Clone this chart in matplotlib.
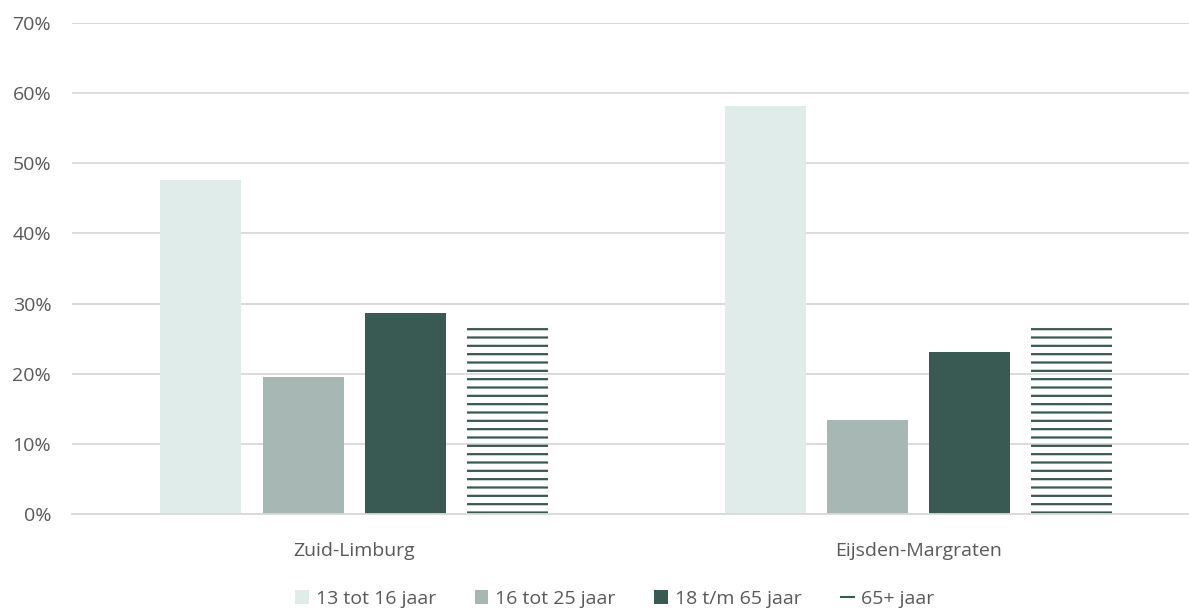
import matplotlib

matplotlib.use("Agg")
import matplotlib.pyplot as plt
import numpy as np
from matplotlib.patches import Patch
from matplotlib.lines import Line2D

# data
regions = ["Zuid-Limburg", "Eijsden-Margraten"]
series = ["13 tot 16 jaar", "16 tot 25 jaar", "18 t/m 65 jaar", "65+ jaar"]
values = [
    [47.6, 58.2],   # 13 tot 16 jaar
    [19.5, 13.4],   # 16 tot 25 jaar
    [28.7, 23.1],   # 18 t/m 65 jaar
    [27.1, 26.8],   # 65+ jaar
]
yticks = [0, 10, 20, 30, 40, 50, 60, 70]

colors = ["#DFECE9", "#A6B7B4", "#395A53"]
dark = "#395A53"
text_color = "#595959"
grid_color = "#D9D9D9"

plt.rcParams["font.family"] = ["Open Sans", "DejaVu Sans"]
plt.rcParams["hatch.linewidth"] = 1.6

fig = plt.figure(figsize=(11.89, 6.08), dpi=100)
ax = fig.add_axes([0.0606, 0.1546, 0.9394, 0.8076])

x = np.arange(len(regions))
width = 0.1436
step = 0.181
for i, name in enumerate(series):
    offs = (i - 1.5) * step
    if i == 3:
        ax.bar(x + offs, values[i], width, facecolor="none", edgecolor=dark,
               hatch="--", linewidth=0, zorder=2)
    else:
        ax.bar(x + offs, values[i], width, color=colors[i], edgecolor="none",
               zorder=2)

ax.set_xlim(-0.5, 1.48)
ax.set_ylim(0, 70)
ax.set_yticks(yticks)
ax.set_yticklabels([f"{v}%" for v in yticks])
ax.set_xticks(x)
ax.set_xticklabels(regions)
ax.tick_params(axis="both", length=0, labelsize=14, colors=text_color)
ax.tick_params(axis="y", pad=15)
ax.tick_params(axis="x", pad=20)
ax.yaxis.grid(True, color=grid_color, linewidth=1.3, zorder=0)
ax.set_axisbelow(True)
for side in ["top", "right", "left"]:
    ax.spines[side].set_visible(False)
ax.spines["bottom"].set_color(grid_color)
ax.spines["bottom"].set_linewidth(1.3)

handles = [Patch(facecolor=colors[i], edgecolor="none") for i in range(3)]
handles.append(Line2D([0], [0], color=dark, linewidth=1.5))
leg = fig.legend(handles, series, loc="center", bbox_to_anchor=(0.517, 0.015),
                 ncol=4, frameon=False, fontsize=14, handlelength=0.7,
                 handleheight=0.7, handletextpad=0.35, columnspacing=2.0)
for t in leg.get_texts():
    t.set_color(text_color)

plt.savefig("out.png", dpi=100)
plt.close(fig)
